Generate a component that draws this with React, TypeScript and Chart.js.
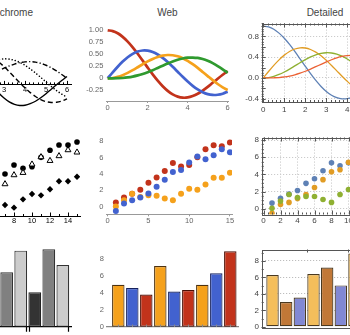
import React, { useEffect, useRef } from 'react';
import { Chart, registerables } from 'chart.js';

Chart.register(...registerables);

const FONT = "'Liberation Sans', Arial, Helvetica, sans-serif";
Chart.defaults.font.family = FONT;

// ---------- row 1: four oscillating curves ----------
const curveX = [0, 0.25, 0.5, 0.75, 1, 1.25, 1.5, 1.75, 2, 2.25, 2.5, 2.75, 3, 3.25, 3.5, 3.75, 4, 4.25, 4.5, 4.75, 5, 5.25, 5.5, 5.75, 6];
const curve1 = [1, 0.984, 0.939, 0.864, 0.765, 0.646, 0.512, 0.369, 0.224, 0.083, -0.048, -0.164, -0.26, -0.333, -0.38, -0.402, -0.397, -0.368, -0.321, -0.255, -0.178, -0.092, -0.007, 0.075, 0.151];
const curve2 = [0, 0.124, 0.242, 0.349, 0.44, 0.511, 0.558, 0.58, 0.577, 0.548, 0.497, 0.426, 0.339, 0.241, 0.137, 0.033, -0.066, -0.156, -0.231, -0.289, -0.328, -0.345, -0.341, -0.319, -0.277];
const curve3 = [0, 0.008, 0.031, 0.067, 0.115, 0.171, 0.232, 0.294, 0.353, 0.405, 0.446, 0.474, 0.486, 0.481, 0.459, 0.42, 0.364, 0.295, 0.218, 0.133, 0.047, -0.038, -0.117, -0.186, -0.243];
const curve4 = [0, 0.0003, 0.003, 0.008, 0.02, 0.037, 0.061, 0.092, 0.129, 0.171, 0.217, 0.263, 0.309, 0.351, 0.387, 0.414, 0.43, 0.433, 0.425, 0.402, 0.365, 0.316, 0.256, 0.189, 0.115];

// ---------- row 2: scatter panels ----------
const monoX = [7, 8, 9, 10, 11, 12, 13, 14, 15];
const monoCircle = [4.0, 5.06, 4.67, 4.86, 5.96, 6.79, 7.41, 7.41, 7.76];
const monoTriangle = [2.82, 3.88, 4.15, 5.14, 6.0, 5.56, 6.12, 6.82, 6.55];
const monoDiamond = [0.35, 0.04, 1.02, 1.65, 1.49, 2.2, 3.14, 3.14, 3.68];

const webX = [1, 2, 3, 4, 5, 6, 7, 8, 9, 10, 11, 12, 13, 14, 15];
const webRed = [0.53, 1.13, 1.6, 2.09, 2.93, 3.56, 4.37, 5.33, 4.92, 5.09, 6.05, 7.01, 7.49, 7.37, 7.85];
const webBlue = [-0.52, 0.41, 0.8, 1.13, 1.61, 2.45, 3.29, 4.25, 4.49, 5.4, 6.12, 5.81, 6.29, 7.01, 6.65];
const webOrange = [0.05, 0.8, 1.6, 1.2, 1.4, 1.36, 1.0, 0.8, 1.6, 2.2, 2.09, 2.72, 3.53, 3.53, 4.16];

const detX = [1, 2, 3, 4, 5, 6, 7, 8, 9, 10];
const detBlue = [0.66, 1.23, 1.7, 2.12, 2.96, 3.5, 4.43, 5.35, 5.0, 5.35];
const detOrange = [-0.53, 0.5, 0.74, 1.2, 1.66, 2.47, 3.39, 4.31, 4.54, 5.42];
const detGreen = [0.05, 0.89, 1.66, 1.31, 1.43, 1.43, 1.08, 0.74, 1.66, 2.24];

// ---------- row 3: grouped bars ----------
const monoGroups = [1, 2];
const monoDark = [null, 3.99];
const monoGray = [6.3, 8.97];
const monoLight = [8.81, 7.15];

const webGroups = [1, 2, 3];
const webBarOrange = [4.95, 7.15, 4.95];
const webBarBlue = [4.56, 4.14, 6.3];
const webBarRed = [3.79, 4.33, 8.89];

const detGroups = [1, 2, 3];
const detBarA = [6.3, 6.42, 8.92];
const detBarB = [3.0, 7.2, null];
const detBarC = [3.57, 5.03, null];

// ---------- tick labels ----------
const monoLineXTicks = [1, 2, 3, 4, 5, 6];
const webLineXTicks = [0, 2, 4, 6];
const webLineYTicks = [-0.25, 0, 0.25, 0.5, 0.75, 1];
const detLineXTicks = [0, 1, 2, 3, 4, 5, 6];
const detLineYTicks = [-0.4, -0.2, 0, 0.2, 0.4, 0.6, 0.8, 1.0];
const monoScatXTicks = [2, 4, 6, 8, 10, 12, 14];
const webScatXTicks = [0, 5, 10, 15];
const scatYTicks = [0, 2, 4, 6, 8];
const detScatXTicks = [0, 2, 4, 6, 8, 10, 12, 14];
const barYTicks = [0, 2, 4, 6, 8];

// ---------- colours ----------
const W_RED = '#c2331b';
const W_BLUE = '#4262cf';
const W_ORANGE = '#f5a11c';
const W_GREEN = '#2f9a2f';
const D_BLUE = '#5e81b5';
const D_ORANGE = '#e19c24';
const D_GREEN = '#8fb032';
const D_RED = '#eb6235';

interface Geo {
  cx: number; cy: number; cw: number; ch: number;
  l: number; t: number; r: number; b: number;
  yw: number; xh: number;
  x0: number; px: number; y0: number; py: number;
}

const layoutOf = (g: Geo) => ({
  autoPadding: false,
  padding: { left: g.l - g.cx - g.yw, right: g.cx + g.cw - g.r, top: g.t - g.cy, bottom: g.cy + g.ch - g.b - g.xh },
});
const xRange = (g: Geo) => ({ min: (g.l - g.x0) / g.px, max: (g.r - g.x0) / g.px });
const yRange = (g: Geo) => ({ min: (g.y0 - g.b) / g.py, max: (g.y0 - g.t) / g.py });
const fixedTicks = (values: number[]) => (s: any) => { s.ticks = values.map((v) => ({ value: v })); };
const steps = (a: number, b: number, s: number) => {
  const out: number[] = [];
  for (let v = a; v <= b + 1e-9; v += s) out.push(+v.toFixed(4));
  return out;
};
const pts = (xv: number[], yv: (number | null)[]) => xv.map((x, i) => ({ x, y: yv[i] }));

type Mark = { axis: 'x' | 'y'; values: number[]; at: 'top' | 'bottom' | 'left' | 'right' | number; len: number; color: string; width?: number };

function decor(marks: Mark[], frame?: string) {
  return {
    id: 'decor',
    afterDraw(chart: any) {
      const { ctx, chartArea: a, scales } = chart;
      ctx.save();
      for (const m of marks) {
        ctx.strokeStyle = m.color;
        ctx.lineWidth = m.width ?? 1;
        ctx.beginPath();
        for (const v of m.values) {
          if (m.axis === 'x') {
            const p = Math.round(scales.x.getPixelForValue(v)) + 0.5;
            const base = m.at === 'top' ? a.top : m.at === 'bottom' ? a.bottom : scales.y.getPixelForValue(m.at as number);
            ctx.moveTo(p, base);
            ctx.lineTo(p, base + m.len);
          } else {
            const p = Math.round(scales.y.getPixelForValue(v)) + 0.5;
            const base = m.at === 'left' ? a.left : m.at === 'right' ? a.right : scales.x.getPixelForValue(m.at as number);
            ctx.moveTo(base, p);
            ctx.lineTo(base + m.len, p);
          }
        }
        ctx.stroke();
      }
      if (frame) {
        ctx.strokeStyle = frame;
        ctx.lineWidth = 1;
        const l = Math.round(a.left), t = Math.round(a.top), r = Math.round(a.right), b = Math.round(a.bottom);
        ctx.strokeRect(l + 0.5, t + 0.5, r - l, b - t);
      }
      ctx.restore();
    },
  };
}

const base = (g: Geo) => ({
  animation: false,
  responsive: false,
  events: [],
  layout: layoutOf(g),
  plugins: { legend: { display: false }, tooltip: { enabled: false }, title: { display: false } },
});

const line = (yv: number[], color: string, width: number, dash: number[] = [], cap = 'butt') => ({
  data: pts(curveX, yv),
  borderColor: color,
  borderWidth: width,
  borderDash: dash,
  borderCapStyle: cap,
  pointRadius: 0,
  tension: 0.3,
  fill: false,
});

// ---------------- panel geometries (page pixels) ----------------
const gA: Geo = { cx: -70, cy: 20, cw: 146, ch: 100, l: -70, t: 25, r: 71, b: 112, yw: 0, xh: 0, x0: -59, px: 21, y0: 84.4, py: 52.5 };
const gB: Geo = { cx: 70, cy: 18, cw: 165, ch: 98, l: 106, t: 24, r: 228.5, b: 101, yw: 30, xh: 12, x0: 107.7, px: 20, y0: 78, py: 48.8 };
const gC: Geo = { cx: 225, cy: 16, cw: 175, ch: 100, l: 261.7, t: 22.7, r: 391, b: 102, yw: 30, xh: 12, x0: 263.3, px: 21, y0: 77.7, py: 52.4 };
const gD: Geo = { cx: -62, cy: 125, cw: 146, ch: 100, l: -62, t: 130, r: 80, b: 216, yw: 0, xh: 9, x0: -58, px: 9, y0: 208, py: 8.5 };
const gE: Geo = { cx: 70, cy: 128, cw: 168, ch: 98, l: 106, t: 134, r: 232, b: 214.3, yw: 30, xh: 11, x0: 107.7, px: 8.15, y0: 206.7, py: 8.33 };
const gF: Geo = { cx: 225, cy: 130, cw: 175, ch: 96, l: 261.7, t: 136.7, r: 391, b: 214.5, yw: 30, xh: 11, x0: 263.5, px: 8.5, y0: 208.7, py: 8.67 };
const gG: Geo = { cx: -40, cy: 235, cw: 115, ch: 100, l: -40, t: 240, r: 71.7, b: 326.7, yw: 0, xh: 8, x0: -35.4, px: 42.1, y0: 326.7, py: 8.63 };
const gH: Geo = { cx: 70, cy: 238, cw: 175, ch: 97, l: 106.7, t: 244, r: 238.3, b: 327, yw: 30, xh: 8, x0: 90.3, px: 42, y0: 326.8, py: 8.63 };
const gI: Geo = { cx: 225, cy: 242, cw: 175, ch: 93, l: 261.7, t: 248.3, r: 392, b: 328, yw: 30, xh: 0, x0: 245.2, px: 40.98, y0: 327.3, py: 8.41 };

const monoFont = { size: 7.5 };
const webFont = { size: 7.5 };
const detFont = { size: 8 };

const buildA = () => ({
  type: 'line',
  data: {
    datasets: [
      line(curve1, '#000', 1.4),
      line(curve2, '#000', 1.4, [5, 3]),
      line(curve3, '#000', 1.6, [0.01, 3.2], 'round'),
      line(curve4, '#000', 1.4, [5, 2.2, 1.2, 2.2]),
    ],
  },
  options: {
    ...base(gA),
    scales: {
      x: {
        type: 'linear', ...xRange(gA), position: { y: 0 },
        afterBuildTicks: fixedTicks(monoLineXTicks), afterFit: (s: any) => { s.height = 0; },
        grid: { display: false, drawTicks: false }, border: { color: '#000', width: 1 },
        ticks: { font: monoFont, color: '#000', padding: 0.7 },
      },
      y: { type: 'linear', display: false, ...yRange(gA) },
    },
  },
  plugins: [decor([
    { axis: 'x', values: steps(0, 6, 0.2), at: 0, len: -2, color: '#000' },
    { axis: 'x', values: monoLineXTicks, at: 0, len: -3.5, color: '#000' },
  ])],
});

const buildB = () => ({
  type: 'line',
  data: {
    datasets: [
      line(curve4, W_GREEN, 2.7),
      line(curve3, W_ORANGE, 2.7),
      line(curve2, W_BLUE, 2.7),
      line(curve1, W_RED, 2.7),
    ],
  },
  options: {
    ...base(gB),
    scales: {
      x: {
        type: 'linear', ...xRange(gB),
        afterBuildTicks: fixedTicks(webLineXTicks), afterFit: (s: any) => { s.height = gB.xh; },
        grid: { drawOnChartArea: false, drawTicks: true, tickLength: 2, color: '#999' },
        border: { color: '#999', width: 1 },
        ticks: { font: webFont, color: '#666', padding: 0.5 },
      },
      y: {
        type: 'linear', ...yRange(gB),
        afterBuildTicks: fixedTicks(webLineYTicks), afterFit: (s: any) => { s.width = gB.yw; },
        grid: { display: false, drawTicks: false }, border: { display: false },
        ticks: { font: webFont, color: '#666', padding: 2.7, callback: (v: number) => (v === 0 ? '0' : v.toFixed(2)) },
      },
    },
  },
});

const detGrid = { color: '#cbcbcb', lineWidth: 1, drawTicks: false };
const detBorder = { display: false, dash: [1.2, 1.8] };

const buildC = () => ({
  type: 'line',
  data: {
    datasets: [
      line(curve4, D_RED, 1.3),
      line(curve3, D_GREEN, 1.3),
      line(curve2, D_ORANGE, 1.3),
      line(curve1, D_BLUE, 1.3),
    ],
  },
  options: {
    ...base(gC),
    scales: {
      x: {
        type: 'linear', ...xRange(gC),
        afterBuildTicks: fixedTicks(detLineXTicks), afterFit: (s: any) => { s.height = gC.xh; },
        grid: detGrid, border: detBorder,
        ticks: { font: detFont, color: '#444', padding: 2.5 },
      },
      y: {
        type: 'linear', ...yRange(gC),
        afterBuildTicks: fixedTicks(detLineYTicks), afterFit: (s: any) => { s.width = gC.yw; },
        grid: detGrid, border: detBorder,
        ticks: { font: detFont, color: '#444', padding: 2.7, callback: (v: number) => v.toFixed(1) },
      },
    },
  },
  plugins: [decor([
    { axis: 'x', values: steps(0, 6, 0.2), at: 'bottom', len: -2, color: '#555' },
    { axis: 'x', values: steps(0, 6, 0.2), at: 'top', len: 2, color: '#555' },
    { axis: 'x', values: detLineXTicks, at: 'bottom', len: -4, color: '#555' },
    { axis: 'x', values: detLineXTicks, at: 'top', len: 4, color: '#555' },
    { axis: 'y', values: steps(-0.45, 1.05, 0.05), at: 'left', len: 2, color: '#555' },
    { axis: 'y', values: detLineYTicks, at: 'left', len: 4, color: '#555' },
  ], '#555')],
});

const buildD = () => ({
  type: 'scatter',
  data: {
    datasets: [
      { data: pts(monoX, monoTriangle), pointStyle: 'triangle', pointRadius: 3.4, backgroundColor: '#fff', borderColor: '#000', borderWidth: 1 },
      { data: pts(monoX, monoCircle), pointStyle: 'circle', pointRadius: 2.8, backgroundColor: '#000', borderColor: '#000', borderWidth: 0 },
      { data: pts(monoX, monoDiamond), pointStyle: 'rectRot', pointRadius: 3.2, backgroundColor: '#000', borderColor: '#000', borderWidth: 0 },
    ],
  },
  options: {
    ...base(gD),
    scales: {
      x: {
        type: 'linear', ...xRange(gD),
        afterBuildTicks: fixedTicks(monoScatXTicks), afterFit: (s: any) => { s.height = gD.xh; },
        grid: { display: false, drawTicks: false }, border: { color: '#000', width: 1 },
        ticks: { font: monoFont, color: '#000', padding: 0.8 },
      },
      y: { type: 'linear', display: false, ...yRange(gD) },
    },
  },
  plugins: [decor([
    { axis: 'x', values: steps(1, 15, 1), at: 'bottom', len: -2, color: '#000' },
    { axis: 'x', values: monoScatXTicks, at: 'bottom', len: -3.5, color: '#000' },
  ])],
});

const buildE = () => ({
  type: 'scatter',
  data: {
    datasets: [
      { data: pts(webX, webBlue), pointRadius: 3, backgroundColor: W_BLUE, borderWidth: 0 },
      { data: pts(webX, webOrange), pointRadius: 3, backgroundColor: W_ORANGE, borderWidth: 0 },
      { data: pts(webX, webRed), pointRadius: 3, backgroundColor: W_RED, borderWidth: 0 },
    ],
  },
  options: {
    ...base(gE),
    scales: {
      x: {
        type: 'linear', ...xRange(gE),
        afterBuildTicks: fixedTicks(webScatXTicks), afterFit: (s: any) => { s.height = gE.xh; },
        grid: { drawOnChartArea: false, drawTicks: true, tickLength: 2, color: '#999' },
        border: { color: '#999', width: 1 },
        ticks: { font: webFont, color: '#666', padding: 0.2 },
      },
      y: {
        type: 'linear', ...yRange(gE),
        afterBuildTicks: fixedTicks(scatYTicks), afterFit: (s: any) => { s.width = gE.yw; },
        grid: { display: false, drawTicks: false }, border: { display: false },
        ticks: { font: webFont, color: '#666', padding: 2.7 },
      },
    },
  },
});

const buildF = () => ({
  type: 'scatter',
  data: {
    datasets: [
      { data: pts(detX, detGreen), pointRadius: 2.8, backgroundColor: D_GREEN, borderWidth: 0 },
      { data: pts(detX, detOrange), pointRadius: 2.8, backgroundColor: D_ORANGE, borderWidth: 0 },
      { data: pts(detX, detBlue), pointRadius: 2.8, backgroundColor: D_BLUE, borderWidth: 0 },
    ],
  },
  options: {
    ...base(gF),
    scales: {
      x: {
        type: 'linear', ...xRange(gF),
        afterBuildTicks: fixedTicks(detScatXTicks), afterFit: (s: any) => { s.height = gF.xh; },
        grid: detGrid, border: detBorder,
        ticks: { font: detFont, color: '#444', padding: 1.7 },
      },
      y: {
        type: 'linear', ...yRange(gF),
        afterBuildTicks: fixedTicks(scatYTicks), afterFit: (s: any) => { s.width = gF.yw; },
        grid: detGrid, border: detBorder,
        ticks: { font: detFont, color: '#444', padding: 2.7 },
      },
    },
  },
  plugins: [decor([
    { axis: 'x', values: steps(0, 15, 0.5), at: 'bottom', len: -2, color: '#555' },
    { axis: 'x', values: steps(0, 15, 0.5), at: 'top', len: 2, color: '#555' },
    { axis: 'x', values: detScatXTicks, at: 'bottom', len: -4, color: '#555' },
    { axis: 'x', values: detScatXTicks, at: 'top', len: 4, color: '#555' },
    { axis: 'y', values: steps(-0.5, 8, 0.5), at: 'left', len: 2, color: '#555' },
    { axis: 'y', values: scatYTicks, at: 'left', len: 4, color: '#555' },
  ], '#555')],
});

const bar = (groups: number[], values: (number | null)[], fill: string, edge: string, bp: number) => ({
  data: pts(groups, values),
  backgroundColor: fill,
  borderColor: edge,
  borderWidth: 1.2,
  borderSkipped: false,
  barPercentage: bp,
  categoryPercentage: 1,
});

const barX = (g: Geo, groups: number[]) => ({
  type: 'linear', ...xRange(g), offset: false,
  afterBuildTicks: fixedTicks(groups), afterFit: (s: any) => { s.height = g.xh; },
  grid: { display: false, drawTicks: false, offset: false },
  ticks: { display: false },
});

const buildG = () => ({
  type: 'bar',
  data: {
    datasets: [
      bar(monoGroups, monoDark, '#333333', '#222', 0.91),
      bar(monoGroups, monoGray, '#808080', '#333', 0.91),
      bar(monoGroups, monoLight, '#cccccc', '#333', 0.91),
    ],
  },
  options: {
    ...base(gG),
    scales: {
      x: { ...barX(gG, monoGroups), border: { color: '#000', width: 1.2 } },
      y: { type: 'linear', display: false, ...yRange(gG) },
    },
  },
  plugins: [decor([
    { axis: 'x', values: [1.465, 1.535, 2.465], at: 'bottom', len: 5, color: '#000', width: 1.2 },
  ])],
});

const buildH = () => ({
  type: 'bar',
  data: {
    datasets: [
      bar(webGroups, webBarOrange, W_ORANGE, '#4d3210', 0.89),
      bar(webGroups, webBarBlue, W_BLUE, '#15215c', 0.89),
      bar(webGroups, webBarRed, W_RED, '#4a0f06', 0.89),
    ],
  },
  options: {
    ...base(gH),
    scales: {
      x: { ...barX(gH, webGroups), border: { color: '#888', width: 1.2 } },
      y: {
        type: 'linear', ...yRange(gH),
        afterBuildTicks: fixedTicks(barYTicks), afterFit: (s: any) => { s.width = gH.yw; },
        grid: { display: false, drawTicks: false }, border: { display: false },
        ticks: { font: webFont, color: '#666', padding: 2.7 },
      },
    },
  },
  plugins: [decor([
    { axis: 'x', values: webGroups.flatMap((g) => [g - 1 / 3, g, g + 1 / 3]), at: 'bottom', len: -2.5, color: '#888' },
  ])],
});

const buildI = () => ({
  type: 'bar',
  data: {
    datasets: [
      bar(detGroups, detBarA, '#f4be5b', '#4a3920', 0.91),
      bar(detGroups, detBarB, '#c17837', '#4a3920', 0.91),
      bar(detGroups, detBarC, '#8188d4', '#4a3920', 0.91),
    ],
  },
  options: {
    ...base(gI),
    scales: {
      x: { ...barX(gI, detGroups), display: false },
      y: {
        type: 'linear', ...yRange(gI),
        afterBuildTicks: fixedTicks(barYTicks), afterFit: (s: any) => { s.width = gI.yw; },
        grid: { ...detGrid, color: (c: any) => (c.tick && c.tick.value === 0 ? 'rgba(0,0,0,0)' : '#bdbdbd') },
        border: detBorder,
        ticks: { font: detFont, color: '#444', padding: 2.7 },
      },
    },
  },
  plugins: [decor([
    { axis: 'y', values: steps(0, 9, 1), at: 'left', len: 2, color: '#555' },
    { axis: 'y', values: barYTicks, at: 'left', len: 4, color: '#555' },
    { axis: 'x', values: [1.5, 2.5], at: 'top', len: 3, color: '#555' },
  ], '#555')],
});

function Panel({ g, build }: { g: Geo; build: () => any }) {
  const ref = useRef<HTMLCanvasElement | null>(null);
  useEffect(() => {
    const chart = new Chart(ref.current as HTMLCanvasElement, build());
    return () => chart.destroy();
  }, []);
  return (
    <canvas
      ref={ref}
      width={g.cw}
      height={g.ch}
      style={{ position: 'absolute', left: g.cx, top: g.cy, width: g.cw, height: g.ch }}
    />
  );
}

const titleStyle: React.CSSProperties = {
  position: 'absolute', top: 8, fontSize: 10, lineHeight: '10px', color: '#444',
  fontFamily: FONT, whiteSpace: 'nowrap',
};

export default function App() {
  return (
    <div style={{ position: 'fixed', left: 0, top: 0, width: 350, height: 335, overflow: 'hidden', background: '#fff' }}>
      <div style={{ ...titleStyle, right: 350 - 33, textAlign: 'right' }}>Monochrome</div>
      <div style={{ ...titleStyle, left: 117.5, width: 100, textAlign: 'center' }}>Web</div>
      <div style={{ ...titleStyle, left: 275, width: 100, textAlign: 'center' }}>Detailed</div>
      <Panel g={gA} build={buildA} />
      <Panel g={gB} build={buildB} />
      <Panel g={gC} build={buildC} />
      <Panel g={gD} build={buildD} />
      <Panel g={gE} build={buildE} />
      <Panel g={gF} build={buildF} />
      <Panel g={gG} build={buildG} />
      <Panel g={gH} build={buildH} />
      <Panel g={gI} build={buildI} />
    </div>
  );
}
